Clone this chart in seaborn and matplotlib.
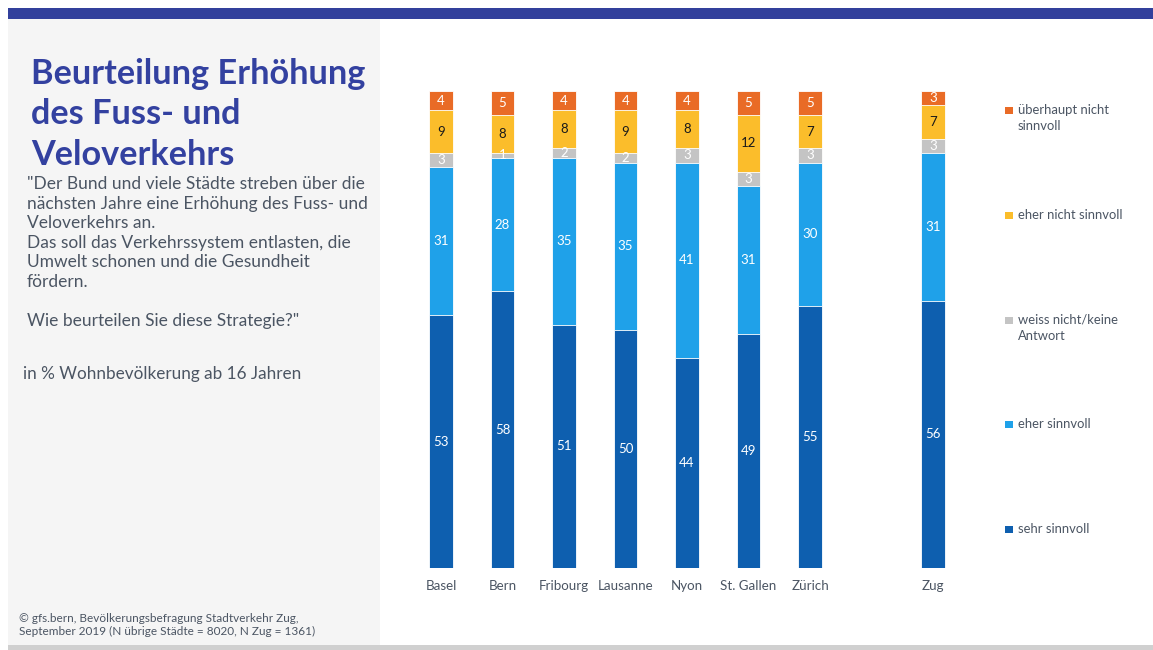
import numpy as np
import pandas as pd
import matplotlib
matplotlib.use("Agg")
import matplotlib.pyplot as plt
from matplotlib.patches import Rectangle
import seaborn as sns

# --- data -------------------------------------------------------------
cities = ["Basel", "Bern", "Fribourg", "Lausanne", "Nyon", "St. Gallen", "Zürich", "Zug"]
sehr_sinnvoll = [53, 58, 51, 50, 44, 49, 55, 56]
eher_sinnvoll = [31, 28, 35, 35, 41, 31, 30, 31]
weiss_nicht = [3, 1, 2, 2, 3, 3, 3, 3]
eher_nicht_sinnvoll = [9, 8, 8, 9, 8, 12, 7, 7]
ueberhaupt_nicht = [4, 5, 4, 4, 4, 5, 5, 3]

categories = ["sehr sinnvoll", "eher sinnvoll", "weiss nicht/keine\nAntwort",
              "eher nicht sinnvoll", "überhaupt nicht\nsinnvoll"]
series = [sehr_sinnvoll, eher_sinnvoll, weiss_nicht, eher_nicht_sinnvoll, ueberhaupt_nicht]
colors = ["#0E5FAF", "#1FA1E9", "#C4C4C4", "#FBBD2B", "#E96B26"]
label_colors = ["white", "white", "white", "#1a1a1a", "white"]

title = "Beurteilung Erhöhung\ndes Fuss- und\nVeloverkehrs"
question = ('"Der Bund und viele Städte streben über die\n'
            'nächsten Jahre eine Erhöhung des Fuss- und\n'
            'Veloverkehrs an.\n'
            'Das soll das Verkehrssystem entlasten, die\n'
            'Umwelt schonen und die Gesundheit\n'
            'fördern.\n\n'
            'Wie beurteilen Sie diese Strategie?"')
base_note = "in % Wohnbevölkerung ab 16 Jahren"
source = ("© gfs.bern, Bevölkerungsbefragung Stadtverkehr Zug,\n"
          "September 2019 (N übrige Städte = 8020, N Zug = 1361)")

# --- style ------------------------------------------------------------
sns.set_theme(style="white")
plt.rcParams["font.family"] = ["Lato", "DejaVu Sans"]
text_col = "#4B5563"
title_col = "#3341A0"

W, H = 1153, 650
fig = plt.figure(figsize=(W / 100, H / 100), dpi=100)
fig.patch.set_facecolor("white")

def fx(px):
    return px / W

def fy(py):
    return 1 - py / H

# page decoration: top band, left grey panel, bottom rule
fig.add_artist(Rectangle((fx(8), fy(19)), fx(W - 8), 11 / H, transform=fig.transFigure,
                         facecolor="#32409C", edgecolor="none", zorder=0))
fig.add_artist(Rectangle((fx(8), fy(645)), fx(372), 626 / H, transform=fig.transFigure,
                         facecolor="#F5F5F5", edgecolor="none", zorder=0))
fig.add_artist(Rectangle((fx(8), fy(650)), fx(W - 8), 5 / H, transform=fig.transFigure,
                         facecolor="#D0D0D0", edgecolor="none", zorder=0))

# left-hand texts
fig.text(fx(31), fy(58), title, ha="left", va="top", fontsize=24.7, fontweight="bold",
         color=title_col, linespacing=1.32)
fig.text(fx(27), fy(176), question, ha="left", va="top", fontsize=12.5, color=text_col,
         linespacing=1.27)
fig.text(fx(23), fy(366), base_note, ha="left", va="top", fontsize=12.3, color=text_col)
fig.text(fx(19), fy(613), source, ha="left", va="top", fontsize=8.5, color=text_col,
         linespacing=1.2)

# --- stacked bars -----------------------------------------------------
order = cities[:7] + [" "] + cities[7:]
ax = fig.add_axes([fx(410.25), fy(568), fx(553.5), 477 / H])
ax.set_facecolor("none")

cum = np.cumsum(np.array(series), axis=0)
for i in range(len(series) - 1, -1, -1):
    df = pd.DataFrame({"city": cities, "top": cum[i]})
    sns.barplot(data=df, x="city", y="top", order=order, color=colors[i], width=0.39,
                saturation=1, edgecolor="white", linewidth=0.6, ax=ax, zorder=2)

# value labels, centred in each segment
bars = ax.containers[-1]
for i, vals in enumerate(series):
    below = cum[i] - np.array(vals)
    for patch, v, b in zip(bars, vals, below):
        xc = patch.get_x() + patch.get_width() / 2
        ax.text(xc, b + v / 2, str(v), ha="center", va="center", fontsize=9.5,
                color=label_colors[i], zorder=5)

ax.set_xlim(-0.5, len(order) - 0.5)
ax.set_ylim(0, 100)
ax.set_xlabel("")
ax.set_ylabel("")
ax.set_yticks([])
ax.tick_params(axis="x", length=0, pad=9, labelsize=9.6, labelcolor=text_col)
sns.despine(ax=ax, left=True, bottom=True)

# --- legend -----------------------------------------------------------
legend_y = [530, 425, 321, 216, 111]
for cat, col, y in zip(categories, colors, legend_y):
    fig.add_artist(Rectangle((fx(1005), fy(y + 3)), fx(8), 7 / H, transform=fig.transFigure,
                             facecolor=col, edgecolor="none"))
    fig.text(fx(1018), fy(y - 7), cat, ha="left", va="top", fontsize=9.4, color=text_col,
             linespacing=1.35)

fig.savefig("out.png", dpi=100)
